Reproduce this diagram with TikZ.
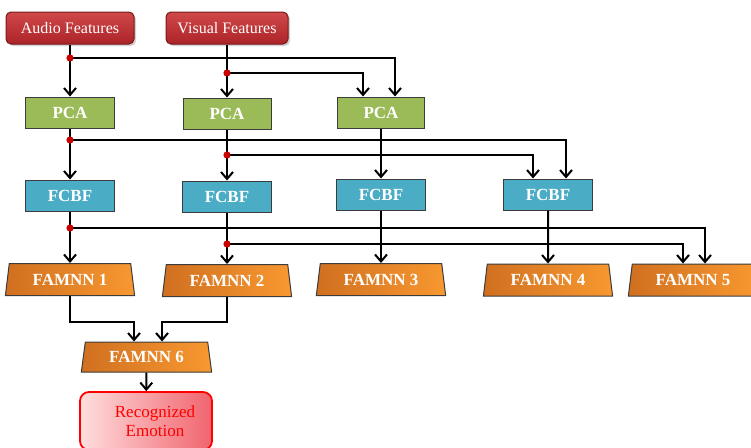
\documentclass[tikz,border=0pt]{standalone}
\usepackage{fontspec}
\setmainfont{Liberation Serif}
\usetikzlibrary{arrows.meta,shapes.geometric,shadows}
\definecolor{redtop}{RGB}{208,72,72}
\definecolor{redbot}{RGB}{172,36,40}
\definecolor{redline}{RGB}{120,25,25}
\definecolor{pcagreen}{RGB}{155,187,89}
\definecolor{fcbfblue}{RGB}{75,172,198}
\definecolor{orangeL}{RGB}{208,112,32}
\definecolor{orangeR}{RGB}{248,152,48}
\definecolor{boxline}{RGB}{60,60,60}
\definecolor{dotred}{RGB}{200,0,0}
\definecolor{pinkL}{RGB}{255,222,222}
\definecolor{pinkR}{RGB}{240,100,110}
\definecolor{emored}{RGB}{255,0,0}
\begin{document}
\begin{tikzpicture}[x=1pt,y=-1pt,
  basebox/.style={draw=boxline, line width=1pt, text=white, inner sep=0pt,
    font=\bfseries\fontsize{17}{19}\selectfont},
  inbox/.style={draw=redline, line width=1pt, rounded corners=5pt, top color=redtop,
    bottom color=redbot, text=white, inner sep=0pt, minimum height=32pt,
    font=\fontsize{16}{18}\selectfont,
    drop shadow={shadow xshift=2pt, shadow yshift=-2pt, fill=black!35}},
  pcabox/.style={basebox, fill=pcagreen, minimum height=31pt},
  fcbfbox/.style={basebox, fill=fcbfblue, minimum width=89pt, minimum height=31pt},
  famnn/.style={basebox, trapezium, trapezium left angle=78, trapezium right angle=78,
    trapezium stretches=true, minimum width=130pt, minimum height=32pt,
    left color=orangeL, right color=orangeR},
  emobox/.style={draw=emored, line width=1.8pt, rounded corners=9pt, left color=pinkL,
    right color=pinkR, text=emored, align=center, inner sep=0pt, minimum width=132pt,
    minimum height=58pt, font=\fontsize{17}{19}\selectfont},
  arr/.style={line width=2pt, -{Straight Barb[length=7pt,width=12pt,line width=2pt]}},
  dotmark/.style={fill=dotred}
]
\useasboundingbox (0,0) rectangle (751,447);

\node[inbox, minimum width=128pt] (audio) at (70,28) {Audio Features};
\node[inbox, minimum width=122pt] (visual) at (227,28) {Visual Features};

\node[pcabox, minimum width=89pt] (pca1) at (70,112.5) {PCA};
\node[pcabox, minimum width=88pt] (pca2) at (227,113.5) {PCA};
\node[pcabox, minimum width=87pt] (pca3) at (381,112.5) {PCA};

\node[fcbfbox] (fcbf1) at (70,195.5) {FCBF};
\node[fcbfbox] (fcbf2) at (227,196.5) {FCBF};
\node[fcbfbox] (fcbf3) at (381,194.5) {FCBF};
\node[fcbfbox] (fcbf4) at (548,194.5) {FCBF};

\node[famnn] (famnn1) at (70,279.5) {FAMNN 1};
\node[famnn] (famnn2) at (227,280.5) {FAMNN 2};
\node[famnn] (famnn3) at (381,279.5) {FAMNN 3};
\node[famnn] (famnn4) at (548,280) {FAMNN 4};
\node[famnn] (famnn5) at (693,280) {FAMNN 5};
\node[famnn, minimum width=131pt, minimum height=30pt] (famnn6) at (146.5,357) {FAMNN 6};

\node[emobox] (emotion) at (146,421) {\hspace*{18pt}Recognized\\\hspace*{18pt}Emotion};

\coordinate (a1) at (70,58);
\coordinate (v1) at (227,73);
\coordinate (p1) at (70,140);
\coordinate (p2) at (227,155);
\coordinate (f1) at (70,228);
\coordinate (f2) at (227,244);

\draw[arr] (audio) -- (pca1);
\draw[arr] (visual) -- (pca2);
\draw[arr] (a1) -| ([xshift=14pt]pca3.north);
\draw[arr] (v1) -| ([xshift=-18pt]pca3.north);

\draw[arr] (pca1) -- (fcbf1);
\draw[arr] (pca2) -- (fcbf2);
\draw[arr] (pca3) -- (fcbf3);
\draw[arr] (p1) -| ([xshift=18pt]fcbf4.north);
\draw[arr] (p2) -| ([xshift=-15pt]fcbf4.north);

\draw[arr] (fcbf1) -- (famnn1);
\draw[arr] (fcbf2) -- (famnn2);
\draw[arr] (fcbf3) -- (famnn3);
\draw[arr] (fcbf4) -- (famnn4);
\draw[arr] (f1) -| ([xshift=12pt]famnn5.north);
\draw[arr] (f2) -| ([xshift=-10pt]famnn5.north);

\draw[arr] (famnn1.south) -- ++(0,26) -| ([xshift=-12.5pt]famnn6.north);
\draw[arr] (famnn2.south) -- ++(0,24.5) -| ([xshift=15.5pt]famnn6.north);
\draw[arr] (famnn6) -- (emotion);

\foreach \d in {a1,v1,p1,p2,f1,f2} \fill[dotmark] (\d) circle (3.6pt);
\end{tikzpicture}
\end{document}
